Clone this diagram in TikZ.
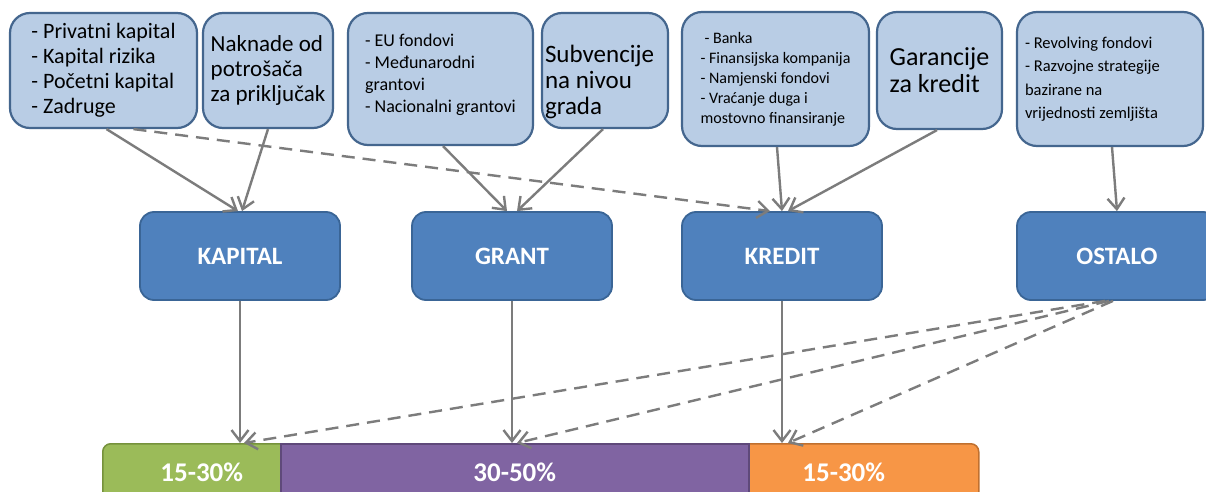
\documentclass[tikz,border=0pt]{standalone}
\usepackage{fontspec}
\setmainfont{Carlito}
\usetikzlibrary{arrows.meta}
\definecolor{topfill}{HTML}{B9CDE5}
\definecolor{topdraw}{HTML}{44668E}
\definecolor{midfill}{HTML}{4F81BD}
\definecolor{middraw}{HTML}{3A6596}
\definecolor{gfill}{HTML}{9BBB59}
\definecolor{gdraw}{HTML}{76923C}
\definecolor{pfill}{HTML}{8064A2}
\definecolor{pdraw}{HTML}{5F497A}
\definecolor{ofill}{HTML}{F79646}
\definecolor{odraw}{HTML}{C0702F}
\definecolor{arr}{HTML}{7C7C7C}
\begin{document}
\begin{tikzpicture}[x=1pt,y=-1pt,
  topbox/.style={draw=topdraw, line width=2.2pt, fill=topfill, rounded corners=20pt,
    align=flush left, inner sep=0pt, text=black},
  midbox/.style={draw=middraw, line width=1.8pt, fill=midfill, rounded corners=14pt,
    minimum width=200pt, minimum height=88pt, inner sep=0pt, text=white,
    font=\fontsize{25}{30}\selectfont\bfseries},
  barseg/.style={line width=1.5pt, minimum height=57pt, inner sep=0pt, anchor=north west,
    text=white, font=\fontsize{27}{30}\selectfont\bfseries},
  arrow/.style={draw=arr, line width=2.4pt,
    -{Straight Barb[length=11pt,width=17pt,line width=2.4pt]}},
  dasharrow/.style={arrow, dash pattern=on 13pt off 8pt}]
\useasboundingbox (0,0) rectangle (1206,492);
\clip (0,0) rectangle (1206,492);
\fill[white] (0,0) rectangle (1206,492);

% top boxes
\node[topbox, minimum width=187pt, minimum height=115pt,
  font=\fontsize{22}{25}\selectfont] (b1) at (103.5,70.5)
  {- Privatni kapital\\- Kapital rizika\\- Početni kapital\\- Zadruge};
\node[topbox, minimum width=130pt, minimum height=115pt,
  font=\fontsize{23}{25}\selectfont] (b2) at (268,70.5)
  {Naknade od\\potrošača\\za priključak};
\node[topbox, minimum width=185pt, minimum height=132pt,
  font=\fontsize{18}{22}\selectfont] (b3) at (440.5,79)
  {- EU fondovi\\- Međunarodni\\grantovi\\- Nacionalni grantovi\rule[-12pt]{0pt}{0pt}};
\node[topbox, minimum width=126pt, minimum height=115pt, text width=120pt,
  font=\fontsize{25}{26}\selectfont] (b4) at (605,70.5)
  {\rule{0pt}{40pt}Subvencije\\na nivou\\grada};
\node[topbox, minimum width=187pt, minimum height=134pt,
  font=\fontsize{16}{20}\selectfont] (b5) at (775.5,79)
  {\hspace{4pt}- Banka\\- Finansijska kompanija\\- Namjenski fondovi\\- Vraćanje duga i\\mostovno finansiranje};
\node[topbox, minimum width=125pt, minimum height=117pt,
  font=\fontsize{26}{27}\selectfont] (b6) at (939.5,70.5)
  {Garancije\\za kredit};
\node[topbox, minimum width=186pt, minimum height=134pt, text width=170pt,
  font=\fontsize{16.5}{23.5}\selectfont] (b7) at (1110,79)
  {- Revolving fondovi\\- Razvojne strategije\\bazirane na\\vrijednosti zemljišta};

% middle boxes
\node[midbox] (kap) at (240,256) {KAPITAL};
\node[midbox] (gra) at (512,256) {GRANT};
\node[midbox] (kre) at (782,256) {KREDIT};
\node[midbox] (ost) at (1117,256) {OSTALO};

% bar
\node[barseg, draw=gdraw, fill=gfill, rounded corners=8pt, minimum width=198pt] (g) at (102,443) {15-30\%};
\node[barseg, draw=odraw, fill=ofill, rounded corners=8pt, minimum width=270pt] (o) at (708,443) {15-30\%};
\node[barseg, draw=pdraw, fill=pfill, minimum width=468pt] (p) at (280,443) {30-50\%};

\coordinate (tk) at (kap.south |- g.north);
\coordinate (tg) at (gra.south |- g.north);
\coordinate (tr) at (kre.south |- g.north);

% connectors top -> middle
\draw[arrow] ([xshift=3pt]b1.south) -- ([xshift=-2pt]kap.north);
\draw[arrow] (b2.south) -- ([xshift=2pt]kap.north);
\draw[arrow] ([xshift=2.5pt]b3.south) -- ([xshift=-5pt]gra.north);
\draw[arrow] ([xshift=-2pt]b4.south) -- ([xshift=5pt]gra.north);
\draw[arrow] ([xshift=1.5pt]b5.south) -- (kre.north);
\draw[arrow] ([xshift=-2.5pt]b6.south) -- ([xshift=6pt]kre.north);
\draw[arrow] ([xshift=2pt]b7.south) -- (ost.north);
\draw[dasharrow] ([xshift=30pt]b1.south) -- ([xshift=-12pt]kre.north);

% connectors middle -> bar
\draw[arrow] (kap.south) -- (tk);
\draw[arrow] (gra.south) -- (tg);
\draw[arrow] (kre.south) -- (tr);
\draw[dasharrow] ([xshift=-12pt]ost.south) -- ([xshift=4pt]tk);
\draw[dasharrow] ([xshift=-8pt]ost.south) -- ([xshift=5pt]tg);
\draw[dasharrow] ([xshift=-4pt]ost.south) -- ([xshift=6pt]tr);
\end{tikzpicture}
\end{document}
